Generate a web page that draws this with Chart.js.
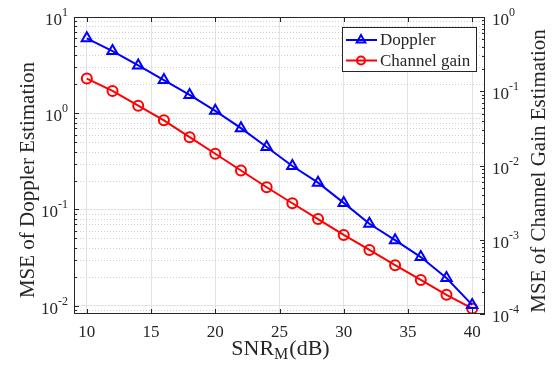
<!DOCTYPE html>
<html>
<head>
<meta charset="utf-8">
<script src="https://cdn.jsdelivr.net/npm/chart.js@4.4.1/dist/chart.umd.min.js"></script>
<style>
  html, body { margin: 0; padding: 0; background: #fff; }
  #wrap { width: 557px; height: 366px; }
</style>
</head>
<body>
<div id="wrap"><canvas id="chart" width="557" height="366"></canvas></div>
<script>
// ---- data ----
const snr = [10, 12, 14, 16, 18, 20, 22, 24, 26, 28, 30, 32, 34, 36, 38, 40];
const dopplerMse = [6.0, 4.42, 3.14, 2.21, 1.55, 1.06, 0.70, 0.446, 0.283, 0.19, 0.117, 0.071, 0.048, 0.032, 0.0194, 0.0102];
const channelMse = [0.148, 0.101, 0.064, 0.0406, 0.0241, 0.0144, 0.00856, 0.00509, 0.0031, 0.0019, 0.00116, 0.00073, 0.000455, 0.000288, 0.000181, 0.000119];
const xTicks = [10, 15, 20, 25, 30, 35, 40];
const leftExps = [-2, -1, 0, 1];
const rightExps = [-4, -3, -2, -1, 0];
const seriesNames = ["Doppler", "Channel gain"];

const SERIF = '"Liberation Serif", "Times New Roman", serif';
const INK = "#262626";
const GRID = "#e2e2e2";
const MINOR = "#cfcfcf";

// ---- helpers ----
function minorValues(min, max) {
  const out = [];
  const lo = Math.floor(Math.log10(min));
  const hi = Math.ceil(Math.log10(max));
  for (let d = lo; d < hi; d++) {
    for (let m = 2; m <= 9; m++) {
      const v = m * Math.pow(10, d);
      if (v >= min && v <= max) out.push(v);
    }
  }
  return out;
}

// "10" with a raised exponent
function drawPow(ctx, exp, x, y, align) {
  ctx.font = "17px " + SERIF;
  const base = "10";
  const bw = ctx.measureText(base).width;
  ctx.font = "12px " + SERIF;
  const sup = exp < 0 ? "-" + Math.abs(exp) : String(exp);
  const sw = ctx.measureText(sup).width;
  const x0 = align === "right" ? x - bw - sw : x;
  ctx.textAlign = "left";
  ctx.textBaseline = "alphabetic";
  ctx.font = "17px " + SERIF;
  ctx.fillText(base, x0, y + 8);
  ctx.font = "12px " + SERIF;
  ctx.fillText(sup, x0 + bw, y - 1);
}

const axesDecor = {
  id: "axesDecor",
  beforeDatasetsDraw(chart) {
    const { ctx, chartArea: a } = chart;
    const yL = chart.scales.yL;
    ctx.save();
    ctx.strokeStyle = MINOR;
    ctx.lineWidth = 1;
    ctx.setLineDash([1, 2]);
    minorValues(yL.min, yL.max).forEach((v) => {
      const y = Math.round(yL.getPixelForValue(v)) + 0.5;
      ctx.beginPath();
      ctx.moveTo(a.left, y);
      ctx.lineTo(a.right, y);
      ctx.stroke();
    });
    ctx.restore();
  },
  afterDatasetsDraw(chart) {
    const { ctx, chartArea: a } = chart;
    const { x: xs, yL, yR } = chart.scales;
    ctx.save();
    ctx.strokeStyle = INK;
    ctx.lineWidth = 1;
    ctx.strokeRect(a.left + 0.5, a.top + 0.5, a.right - a.left - 1, a.bottom - a.top - 1);

    ctx.beginPath();
    xTicks.forEach((v) => {
      const x = Math.round(xs.getPixelForValue(v)) + 0.5;
      ctx.moveTo(x, a.bottom); ctx.lineTo(x, a.bottom - 5);
      ctx.moveTo(x, a.top); ctx.lineTo(x, a.top + 5);
    });
    leftExps.forEach((e) => {
      const y = Math.round(yL.getPixelForValue(Math.pow(10, e))) + 0.5;
      ctx.moveTo(a.left, y); ctx.lineTo(a.left + 5, y);
    });
    minorValues(yL.min, yL.max).forEach((v) => {
      const y = Math.round(yL.getPixelForValue(v)) + 0.5;
      ctx.moveTo(a.left, y); ctx.lineTo(a.left + 3, y);
    });
    rightExps.forEach((e) => {
      const y = Math.round(yR.getPixelForValue(Math.pow(10, e))) + 0.5;
      ctx.moveTo(a.right, y); ctx.lineTo(a.right - 5, y);
    });
    minorValues(yR.min, yR.max).forEach((v) => {
      const y = Math.round(yR.getPixelForValue(v)) + 0.5;
      ctx.moveTo(a.right, y); ctx.lineTo(a.right - 3, y);
    });
    ctx.stroke();
    ctx.restore();
  },
  afterDraw(chart) {
    const { ctx, chartArea: a } = chart;
    const { yL, yR } = chart.scales;
    ctx.save();
    ctx.fillStyle = INK;

    // log tick labels
    leftExps.forEach((e) => drawPow(ctx, e, a.left - 6, yL.getPixelForValue(Math.pow(10, e)), "right"));
    rightExps.forEach((e) => drawPow(ctx, e, a.right + 7, yR.getPixelForValue(Math.pow(10, e)), "left"));

    // axis titles
    ctx.font = "21px " + SERIF;
    ctx.textAlign = "center";
    ctx.textBaseline = "alphabetic";
    ctx.save();
    ctx.translate(34, 180);
    ctx.rotate(-Math.PI / 2);
    ctx.fillText("MSE of Doppler Estimation", 0, 0);
    ctx.restore();
    ctx.save();
    ctx.translate(545, 171);
    ctx.rotate(-Math.PI / 2);
    ctx.fillText("MSE of Channel Gain Estimation", 0, 0);
    ctx.restore();

    // x title with subscript
    const big = "22px " + SERIF, small = "16px " + SERIF;
    ctx.font = big;
    const w1 = ctx.measureText("SNR").width;
    const w3 = ctx.measureText("(dB)").width;
    ctx.font = small;
    const w2 = ctx.measureText("M").width;
    let x = 280 - (w1 + w2 + w3) / 2;
    ctx.textAlign = "left";
    ctx.font = big;
    ctx.fillText("SNR", x, 355);
    ctx.font = small;
    ctx.fillText("M", x + w1, 359);
    ctx.font = big;
    ctx.fillText("(dB)", x + w1 + w2 + 1, 355);

    // legend
    const lx = 342, ly = 27, lw = 134, lh = 44;
    ctx.fillStyle = "#fff";
    ctx.fillRect(lx, ly, lw, lh);
    ctx.strokeStyle = INK;
    ctx.lineWidth = 1;
    ctx.strokeRect(lx + 0.5, ly + 0.5, lw, lh);
    chart.data.datasets.forEach((ds, i) => {
      const cy = ly + 13 + i * 20.5;
      ctx.strokeStyle = ds.borderColor;
      ctx.lineWidth = 2;
      ctx.beginPath();
      ctx.moveTo(lx + 4, cy);
      ctx.lineTo(lx + 35, cy);
      ctx.stroke();
      ctx.fillStyle = "rgba(0,0,0,0)";
      Chart.helpers.drawPoint(ctx, {
        pointStyle: ds.pointStyle,
        radius: ds.pointStyle === "triangle" ? 5 : 4,
        borderWidth: 2,
        rotation: 0,
      }, lx + 19, cy);
      ctx.fillStyle = INK;
      ctx.font = "17px " + SERIF;
      ctx.textBaseline = "middle";
      ctx.fillText(ds.label, lx + 38, cy + 1);
    });
    ctx.restore();
  },
};

const chart = new Chart(document.getElementById("chart"), {
  type: "line",
  data: {
    datasets: [
      {
        label: seriesNames[0],
        data: snr.map((x, i) => ({ x, y: dopplerMse[i] })),
        yAxisID: "yL",
        borderColor: "#0000ff",
        backgroundColor: "rgba(0,0,0,0)",
        borderWidth: 2,
        pointStyle: "triangle",
        pointRadius: 6,
        pointBorderWidth: 2,
        pointBackgroundColor: "rgba(0,0,0,0)",
        tension: 0,
      },
      {
        label: seriesNames[1],
        data: snr.map((x, i) => ({ x, y: channelMse[i] })),
        yAxisID: "yR",
        borderColor: "#ff0000",
        backgroundColor: "rgba(0,0,0,0)",
        borderWidth: 2,
        pointStyle: "circle",
        pointRadius: 5,
        pointBorderWidth: 2,
        pointBackgroundColor: "rgba(0,0,0,0)",
        tension: 0,
      },
    ],
  },
  options: {
    responsive: false,
    animation: false,
    layout: { padding: { top: 17, left: 0, right: 0, bottom: 0 } },
    plugins: { legend: { display: false }, tooltip: { enabled: false } },
    scales: {
      x: {
        type: "linear",
        min: 9,
        max: 41,
        afterBuildTicks: (s) => { s.ticks = xTicks.map((v) => ({ value: v })); },
        afterFit: (s) => { s.height = 52; },
        grid: { color: GRID, drawTicks: false },
        border: { display: false },
        ticks: { font: { family: SERIF, size: 17 }, color: INK, padding: 8, maxRotation: 0 },
      },
      yL: {
        type: "logarithmic",
        position: "left",
        min: 0.0082,
        max: 10,
        afterBuildTicks: (s) => { s.ticks = leftExps.map((e) => ({ value: Math.pow(10, e) })); },
        afterFit: (s) => { s.width = 74; },
        grid: { color: GRID, drawTicks: false },
        border: { display: false },
        ticks: { display: false },
      },
      yR: {
        type: "logarithmic",
        position: "right",
        min: 1e-4,
        max: 1,
        afterBuildTicks: (s) => { s.ticks = rightExps.map((e) => ({ value: Math.pow(10, e) })); },
        afterFit: (s) => { s.width = 72; },
        grid: { display: false, drawTicks: false },
        border: { display: false },
        ticks: { display: false },
      },
    },
  },
  plugins: [axesDecor],
});
</script>
</body>
</html>
